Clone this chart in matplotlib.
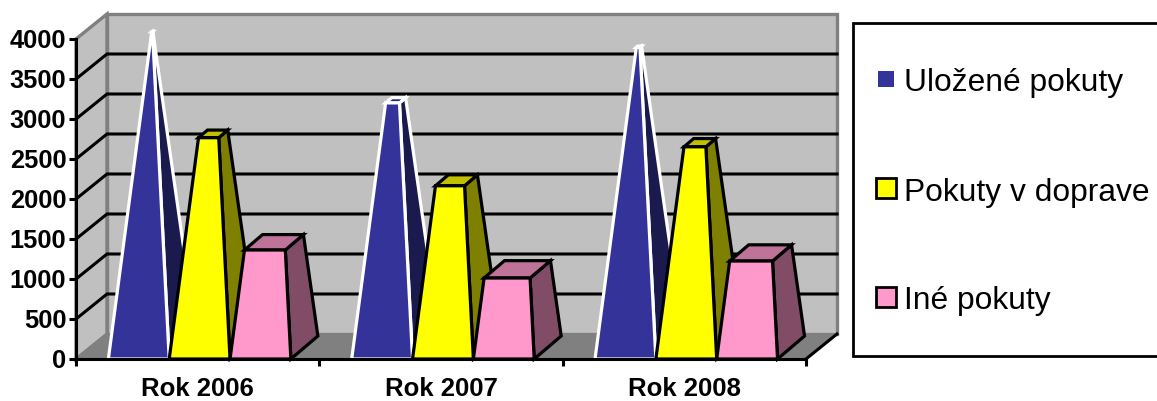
import matplotlib
matplotlib.use("Agg")
import matplotlib.pyplot as plt
from matplotlib.patches import Polygon, Rectangle

plt.rcParams["font.family"] = ["Liberation Sans", "DejaVu Sans"]

categories = ["Rok 2006", "Rok 2007", "Rok 2008"]
series_names = ["Uložené pokuty", "Pokuty v doprave", "Iné pokuty"]
ulozene = [3950, 3090, 3760]
doprava = [2670, 2090, 2560]
ine = [1315, 977, 1182]
y_ticks = [0, 500, 1000, 1500, 2000, 2500, 3000, 3500, 4000]

W, H = 1157, 401
y_max = 4000
# depth of the box and of the bars, in data units
wall_dx, wall_dy = 31 / 243.33, 25 / 0.08
bar_dx, bar_dy = 27 / 243.33, 23 / 0.08
bar_w = 0.25
bar_start = 0.133

# front colour, side colour, top colour, edge colour
styles = [
    ("#333399", "#1a1a4f", "#26267f", "white"),
    ("#ffff00", "#808000", "#c0c000", "black"),
    ("#ff99cc", "#804c66", "#bf7399", "black"),
]


def fx(px):
    return px / W


def fy(py):
    return 1 - py / H


fig = plt.figure(figsize=(W / 100, H / 100), dpi=100)
ax = fig.add_axes([fx(76), fy(359), (806 - 76) / W, (359 - 39) / H])
ax.set_xlim(0, 3)
ax.set_ylim(0, y_max)
ax.patch.set_visible(False)


def poly(points, face, edge="none", lw=0.0, z=1):
    ax.add_patch(Polygon(points, closed=True, facecolor=face, edgecolor=edge,
                         linewidth=lw, clip_on=False, zorder=z, joinstyle="miter"))


# walls and floor
poly([(0, 0), (wall_dx, wall_dy), (wall_dx, y_max + wall_dy), (0, y_max)], "#c0c0c0", "#808080", 2.4)
poly([(wall_dx, wall_dy), (3 + wall_dx, wall_dy), (3 + wall_dx, y_max + wall_dy), (wall_dx, y_max + wall_dy)],
     "#c0c0c0", "#808080", 2.4)
poly([(0, 0), (3, 0), (3 + wall_dx, wall_dy), (wall_dx, wall_dy)], "#808080", "#808080", 1)

# grid on both walls
for t in y_ticks[1:-1]:
    ax.plot([0, wall_dx, 3 + wall_dx], [t, t + wall_dy, t + wall_dy], color="black", lw=2.2,
            clip_on=False, zorder=2, solid_joinstyle="miter")
ax.plot([3, 3 + wall_dx], [0, wall_dy], color="black", lw=2.2, clip_on=False, zorder=2)


def corner(x0, frac, side, back):
    # point on the edge of a pyramid, frac is the share of the way up to the apex
    cx = x0 + bar_w / 2 + bar_dx / 2
    cy = y_max + bar_dy / 2
    bx = x0 + side * bar_w + back * bar_dx
    by = back * bar_dy
    return (bx + (cx - bx) * frac, by + (cy - by) * frac)


all_series = [ulozene, doprava, ine]
z = 3
for c in range(len(categories)):
    for s, values in enumerate(all_series):
        front, sidec, topc, edge = styles[s]
        x0 = c + bar_start + s * bar_w
        f = values[c] / y_max
        fl0, fr0 = corner(x0, 0, 0, 0), corner(x0, 0, 1, 0)
        br0 = corner(x0, 0, 1, 1)
        fl1, fr1 = corner(x0, f, 0, 0), corner(x0, f, 1, 0)
        br1, bl1 = corner(x0, f, 1, 1), corner(x0, f, 0, 1)
        poly([fr0, br0, br1, fr1], sidec, edge, 2.3, z)
        poly([fl1, fr1, br1, bl1], topc, edge, 2.3, z)
        poly([fl0, fr0, fr1, fl1], front, edge, 2.3, z)
        z += 1

# axes on top of everything
for name in ["top", "right"]:
    ax.spines[name].set_visible(False)
for name in ["left", "bottom"]:
    ax.spines[name].set_linewidth(2.2)
    ax.spines[name].set_zorder(50)
ax.set_yticks(y_ticks)
ax.set_xticks(range(4))
ax.set_xticklabels([])
ax.set_xticks([i + 0.5 for i in range(3)], minor=True)
ax.set_xticklabels(categories, minor=True, fontsize=18.5, fontweight="bold")
ax.tick_params(axis="x", which="major", length=5, width=2.2, zorder=50)
ax.tick_params(axis="x", which="minor", length=0, pad=13)
ax.tick_params(axis="y", length=5, width=2.2, labelsize=18.3, pad=2)
for lab in ax.get_yticklabels():
    lab.set_fontweight("bold")

# legend box runs off the right edge of the picture
fig.add_artist(Rectangle((fx(853), fy(355.5)), 1, (355.5 - 23) / H, transform=fig.transFigure,
                         facecolor="white", edgecolor="black", linewidth=2))
legend_y = [80, 189, 298]
for i, name in enumerate(series_names):
    front, _, _, edge = styles[i]
    size = 16 if i == 0 else 20
    y = legend_y[i]
    fig.add_artist(Rectangle((fx(886 - size / 2), fy(y + size / 2 - 1)), size / W, size / H,
                             transform=fig.transFigure, facecolor=front,
                             edgecolor="none" if i == 0 else "black", linewidth=2))
    fig.text(fx(904), fy(y), name, fontsize=22.9, ha="left", va="center_baseline", color="black")

fig.savefig("out.png", dpi=100)
